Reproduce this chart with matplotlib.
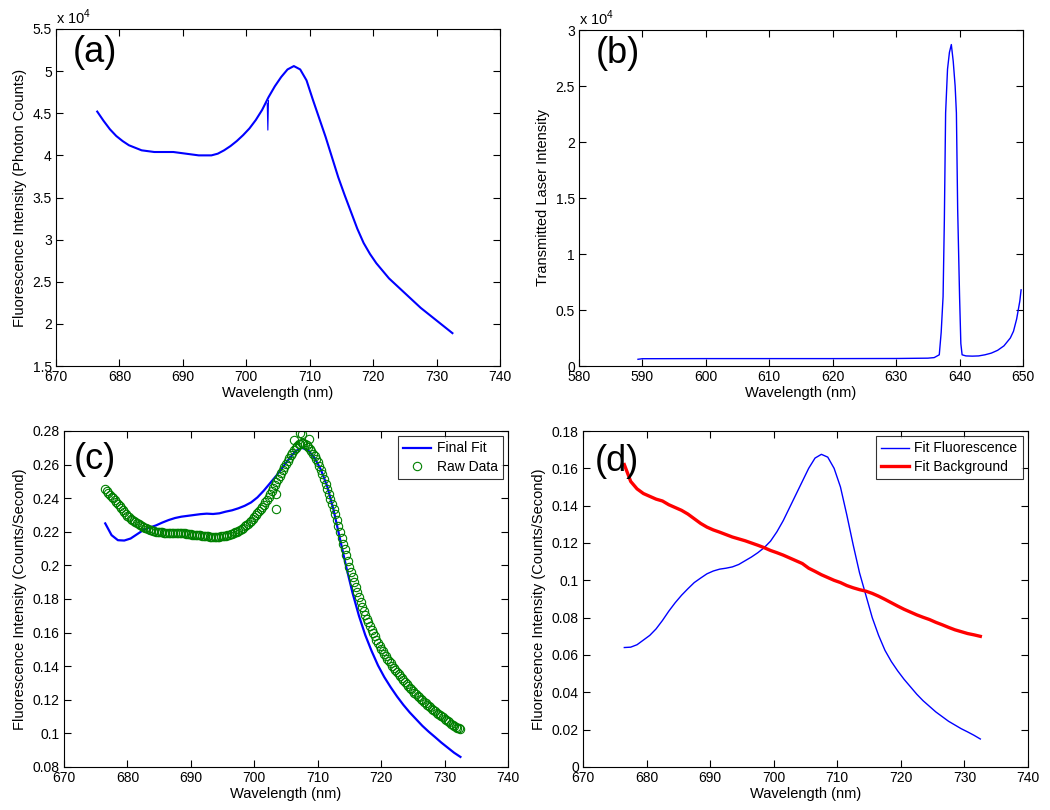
import numpy as np
import matplotlib
matplotlib.use('Agg')
import matplotlib.pyplot as plt
from matplotlib.ticker import FormatStrFormatter, MultipleLocator

plt.rcParams['font.family'] = ['Liberation Sans', 'DejaVu Sans']
plt.rcParams['mathtext.fontset'] = 'custom'
plt.rcParams['mathtext.rm'] = 'Liberation Sans'
plt.rcParams['font.size'] = 10

# ---- data ----
# (a) fluorescence spectrum, photon counts, 1 nm steps from 676.5 nm
spec_counts = [45200, 44100, 43100, 42300, 41700, 41200, 40900, 40600, 40500, 40400,
               40400, 40400, 40400, 40300, 40200, 40100, 40000, 40000, 40000, 40200,
               40600, 41100, 41700, 42400, 43200, 44200, 45400, 46900, 48200, 49300,
               50200, 50600, 50200, 48900, 46600, 44400, 42200, 39800, 37400, 35300,
               33300, 31300, 29600, 28300, 27200, 26300, 25400, 24700, 24000, 23300,
               22600, 21900, 21300, 20700, 20100, 19500, 18900]
spike_wl = [703.3, 703.4, 703.5]
spike_counts = [46200, 43000, 46500]

# (b) transmitted laser
laser_wl = [589.3, 590, 600, 610, 620, 630, 635, 636, 636.8, 637.1, 637.4, 637.6, 637.8,
            638.1, 638.4, 638.7, 639.0, 639.3, 639.5, 639.7, 640.0, 640.2, 640.4, 641,
            642, 643, 644, 645, 646, 647, 648, 648.5, 649, 649.5, 649.7]
laser_int = [600, 650, 660, 660, 660, 670, 700, 750, 1000, 3000, 6200, 13000, 22600,
             26500, 28000, 28700, 27200, 25000, 22600, 14000, 6200, 2000, 1000, 900,
             880, 900, 1000, 1150, 1400, 1800, 2500, 3100, 4200, 5800, 6800]

# (c) final fit, 1 nm steps from 676.5
final_fit = [0.2250, 0.2180, 0.2150, 0.2148, 0.2160, 0.2185, 0.2210, 0.2225, 0.2238, 0.2255,
             0.2270, 0.2282, 0.2290, 0.2295, 0.2300, 0.2305, 0.2308, 0.2306, 0.2310, 0.2320,
             0.2328, 0.2340, 0.2355, 0.2375, 0.2405, 0.2445, 0.2490, 0.2535, 0.2585, 0.2635,
             0.2680, 0.2700, 0.2685, 0.2640, 0.2570, 0.2470, 0.2330, 0.2160, 0.1990, 0.1835,
             0.1700, 0.1585, 0.1490, 0.1405, 0.1335, 0.1275, 0.1220, 0.1170, 0.1125, 0.1085,
             0.1045, 0.1010, 0.0978, 0.0945, 0.0915, 0.0885, 0.0860]
# (c) raw data, 0.25 nm steps from 676.5 (8 per row = 2 nm)
raw_data = [0.2455, 0.2442, 0.2430, 0.2420, 0.2410, 0.2400, 0.2390, 0.2378,
            0.2365, 0.2352, 0.2340, 0.2329, 0.2318, 0.2306, 0.2295, 0.2286,
            0.2278, 0.2270, 0.2262, 0.2256, 0.2250, 0.2244, 0.2238, 0.2233,
            0.2228, 0.2224, 0.2220, 0.2216, 0.2212, 0.2208, 0.2205, 0.2202,
            0.2200, 0.2199, 0.2198, 0.2197, 0.2196, 0.2195, 0.2195, 0.2195,
            0.2195, 0.2194, 0.2194, 0.2193, 0.2193, 0.2192, 0.2192, 0.2191,
            0.2190, 0.2190, 0.2190, 0.2189, 0.2188, 0.2187, 0.2185, 0.2183,
            0.2182, 0.2181, 0.2180, 0.2179, 0.2178, 0.2177, 0.2176, 0.2175,
            0.2174, 0.2173, 0.2172, 0.2172, 0.2172, 0.2171, 0.2171, 0.2171,
            0.2172, 0.2173, 0.2174, 0.2175, 0.2177, 0.2179, 0.2181, 0.2184,
            0.2188, 0.2192, 0.2196, 0.2201, 0.2206, 0.2212, 0.2218, 0.2225,
            0.2232, 0.2240, 0.2248, 0.2257, 0.2266, 0.2276, 0.2287, 0.2298,
            0.2310, 0.2322, 0.2335, 0.2348, 0.2362, 0.2377, 0.2392, 0.2408,
            0.2425, 0.2442, 0.2460, 0.2478, 0.2495, 0.2512, 0.2530, 0.2549,
            0.2568, 0.2587, 0.2605, 0.2623, 0.2640, 0.2656, 0.2672, 0.2686,
            0.2700, 0.2711, 0.2720, 0.2725, 0.2728, 0.2726, 0.2722, 0.2714,
            0.2705, 0.2693, 0.2680, 0.2666, 0.2650, 0.2633, 0.2615, 0.2593,
            0.2570, 0.2543, 0.2515, 0.2485, 0.2455, 0.2425, 0.2395, 0.2365,
            0.2335, 0.2303, 0.2270, 0.2235, 0.2200, 0.2165, 0.2130, 0.2095,
            0.2060, 0.2025, 0.1990, 0.1960, 0.1930, 0.1900, 0.1870, 0.1840,
            0.1810, 0.1781, 0.1752, 0.1728, 0.1705, 0.1683, 0.1662, 0.1640,
            0.1618, 0.1597, 0.1577, 0.1558, 0.1540, 0.1522, 0.1505, 0.1490,
            0.1475, 0.1460, 0.1445, 0.1431, 0.1417, 0.1403, 0.1390, 0.1377,
            0.1365, 0.1352, 0.1340, 0.1328, 0.1316, 0.1304, 0.1292, 0.1282,
            0.1272, 0.1262, 0.1252, 0.1242, 0.1233, 0.1224, 0.1215, 0.1206,
            0.1198, 0.1189, 0.1180, 0.1171, 0.1163, 0.1155, 0.1147, 0.1139,
            0.1132, 0.1124, 0.1117, 0.1109, 0.1102, 0.1095, 0.1088, 0.1080,
            0.1073, 0.1065, 0.1058, 0.1051, 0.1045, 0.1040, 0.1035, 0.1031,
            0.1028]
outlier_wl = [703.4, 703.4, 706.2, 707.2, 707.5, 708.6]
outlier_val = [0.2425, 0.2335, 0.2745, 0.2790, 0.2785, 0.2755]

# (d) fit components, 1 nm steps from 676.5
fit_fluor = [0.0640, 0.0642, 0.0655, 0.0680, 0.0705, 0.0740, 0.0785, 0.0835, 0.0880, 0.0920,
             0.0955, 0.0988, 0.1012, 0.1035, 0.1050, 0.1060, 0.1065, 0.1072, 0.1085, 0.1105,
             0.1125, 0.1148, 0.1175, 0.1210, 0.1260, 0.1320, 0.1390, 0.1460, 0.1530, 0.1600,
             0.1655, 0.1675, 0.1660, 0.1600, 0.1500, 0.1350, 0.1190, 0.1040, 0.0920, 0.0800,
             0.0705, 0.0625, 0.0565, 0.0515, 0.0470, 0.0430, 0.0390, 0.0355, 0.0325, 0.0295,
             0.0270, 0.0245, 0.0225, 0.0205, 0.0188, 0.0170, 0.0150]
fit_bg = [0.1620, 0.1530, 0.1490, 0.1465, 0.1450, 0.1435, 0.1425, 0.1405, 0.1390, 0.1375,
          0.1355, 0.1330, 0.1305, 0.1285, 0.1270, 0.1258, 0.1245, 0.1232, 0.1222, 0.1212,
          0.1200, 0.1188, 0.1175, 0.1160, 0.1148, 0.1135, 0.1120, 0.1105, 0.1090, 0.1065,
          0.1048, 0.1030, 0.1015, 0.1000, 0.0988, 0.0972, 0.0960, 0.0950, 0.0942, 0.0930,
          0.0915, 0.0898, 0.0880, 0.0862, 0.0845, 0.0830, 0.0815, 0.0802, 0.0790, 0.0775,
          0.0762, 0.0748, 0.0735, 0.0725, 0.0715, 0.0708, 0.0700]

wl_1nm = np.arange(676.5, 733.0, 1.0)
wl_raw = np.arange(676.5, 732.6, 0.25)

W, H = 1050, 810
fig = plt.figure(figsize=(W / 100, H / 100), dpi=100)


def make_ax(left, top, right, bottom):
    # pixel box -> figure fraction
    ax = fig.add_axes([left / W, 1 - bottom / H, (right - left) / W, (bottom - top) / H])
    ax.tick_params(direction='in', top=True, right=True, length=5, width=0.8, labelsize=10, pad=3)
    for s in ax.spines.values():
        s.set_linewidth(0.8)
    ax.yaxis.set_major_formatter(FormatStrFormatter('%g'))
    ax.set_xlabel('Wavelength (nm)', fontsize=10.5, labelpad=1)
    return ax


def panel_label(ax, txt, x, y):
    ax.text(x, y, txt, transform=ax.transAxes, fontsize=26, ha='left', va='center')


def matlab_legend(ax):
    leg = ax.legend(loc='upper right', fontsize=10, frameon=True, fancybox=False,
                    handlelength=2.0, handletextpad=0.4, borderaxespad=0.35,
                    borderpad=0.4, labelspacing=0.3)
    leg.get_frame().set_edgecolor('black')
    leg.get_frame().set_linewidth(0.8)


# (a)
ax1 = make_ax(56, 29, 500, 366)
ax1.plot(wl_1nm, np.array(spec_counts) / 1e4, color='blue', lw=1.5)
ax1.plot(spike_wl, np.array(spike_counts) / 1e4, color='blue', lw=0.8)
ax1.set_xlim(670, 740)
ax1.set_ylim(1.5, 5.5)
ax1.yaxis.set_major_locator(MultipleLocator(0.5))
ax1.set_ylabel('Fluorescence Intensity (Photon Counts)', fontsize=10.5, labelpad=4)
ax1.text(0, 1.005, r'x 10$^{4}$', transform=ax1.transAxes, ha='left', va='bottom', fontsize=10.5)
panel_label(ax1, '(a)', 0.037, 0.93)

# (b)
ax2 = make_ax(579, 30, 1023, 366)
ax2.plot(laser_wl, np.array(laser_int) / 1e4, color='blue', lw=1.0)
ax2.set_xlim(580, 650)
ax2.set_ylim(0, 3)
ax2.yaxis.set_major_locator(MultipleLocator(0.5))
ax2.set_ylabel('Transmitted Laser Intensity', fontsize=10.5, labelpad=4)
ax2.text(0, 1.005, r'x 10$^{4}$', transform=ax2.transAxes, ha='left', va='bottom', fontsize=10.5)
panel_label(ax2, '(b)', 0.037, 0.93)

# (c)
ax3 = make_ax(64, 431, 508, 767)
ax3.plot(wl_1nm, final_fit, color='blue', lw=1.6, label='Final Fit')
ax3.plot(wl_raw, raw_data, 'o', mfc='none', mec=(0, 0.5, 0), mew=0.8, ms=6, label='Raw Data')
ax3.plot(outlier_wl, outlier_val, 'o', mfc='none', mec=(0, 0.5, 0), mew=0.8, ms=6)
ax3.set_xlim(670, 740)
ax3.set_ylim(0.08, 0.28)
ax3.yaxis.set_major_locator(MultipleLocator(0.02))
ax3.set_ylabel('Fluorescence Intensity (Counts/Second)', fontsize=10.5, labelpad=4)
matlab_legend(ax3)
panel_label(ax3, '(c)', 0.022, 0.915)

# (d)
ax4 = make_ax(583, 431, 1028, 767)
ax4.plot(wl_1nm, fit_fluor, color='blue', lw=1.0, label='Fit Fluorescence')
ax4.plot(wl_1nm, fit_bg, color='red', lw=2.4, label='Fit Background')
ax4.set_xlim(670, 740)
ax4.set_ylim(0, 0.18)
ax4.yaxis.set_major_locator(MultipleLocator(0.02))
ax4.set_ylabel('Fluorescence Intensity (Counts/Second)', fontsize=10.5, labelpad=4)
matlab_legend(ax4)
panel_label(ax4, '(d)', 0.027, 0.908)

fig.savefig('out.png', dpi=100)
